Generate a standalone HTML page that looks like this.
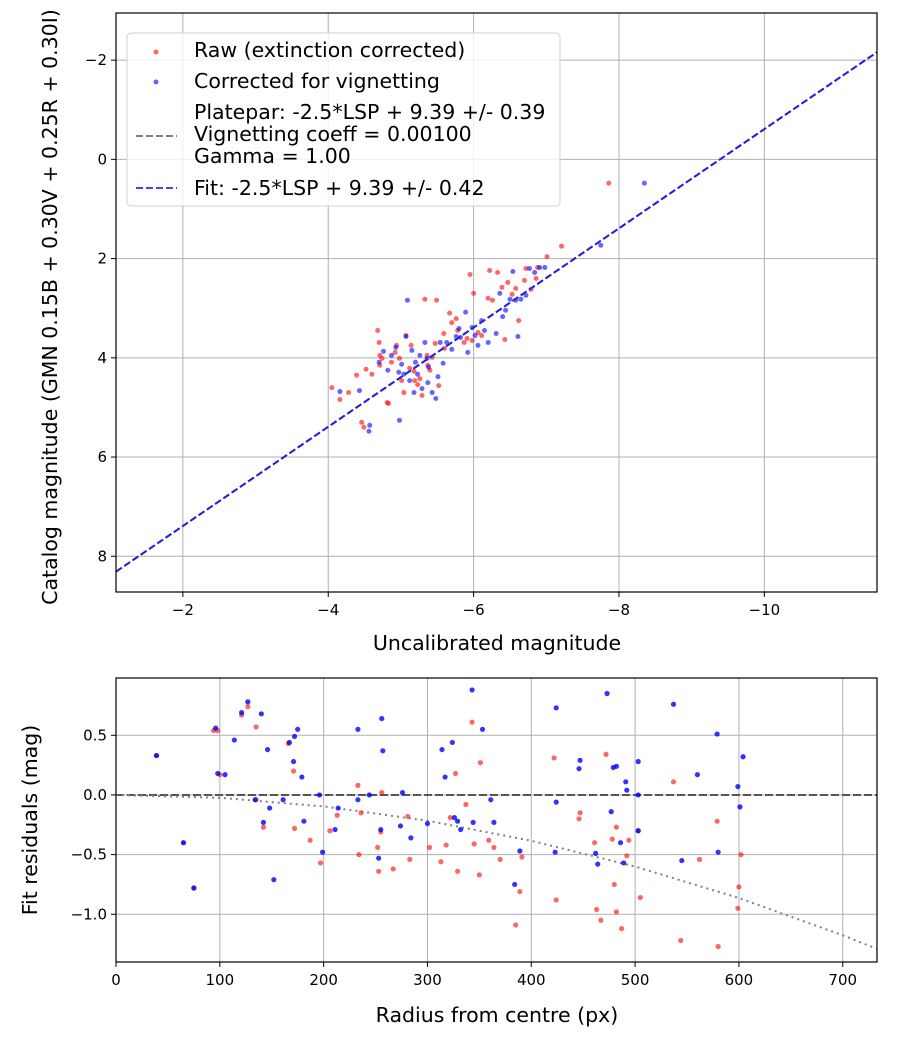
<!DOCTYPE html>
<html><head><meta charset="utf-8"><style>
html,body{margin:0;padding:0;background:#fff;}
svg{display:block;font-family:"DejaVu Sans","Liberation Sans",sans-serif;}
</style></head><body>
<svg id="c" width="900" height="1050" xmlns="http://www.w3.org/2000/svg"></svg>
<script>
// ---- Top panel data ----
const topRawX=[-4.28,-4.46,-4.49,-4.52,-4.60,-4.68,-4.70,-4.71,-4.71,-4.74,-4.81,-4.83,-4.87,-4.92,-4.94,-4.98,-5.01,-5.04,-5.07,-5.12,-5.14,-5.18,-5.19,-5.23,-5.26,-5.29,-5.33,-5.36,-5.37,-5.40,-5.43,-5.47,-5.49,-5.52,-5.59,-5.60,-5.67,-5.70,-5.76,-5.78,-5.87,-5.91,-5.95,-5.98,-6.00,-6.06,-6.11,-6.20,-6.22,-6.26,-6.33,-6.39,-6.43,-6.47,-6.53,-6.58,-6.62,-6.70,-6.72,-6.79,-6.86,-6.88,-7.01,-7.21,-7.86,-4.05,-4.16,-4.39];
const topRawY=[4.70,5.30,5.40,4.23,4.33,3.45,3.69,3.95,4.15,4.01,4.90,4.92,4.09,3.89,3.75,4.01,4.46,4.70,3.55,4.21,3.75,4.27,4.46,4.54,4.42,4.76,2.82,3.95,4.15,4.25,3.99,3.71,2.84,4.56,3.51,3.81,3.10,3.29,3.21,3.45,3.69,3.61,2.32,3.65,2.70,3.49,3.55,2.80,2.24,2.84,2.28,2.58,3.63,2.48,2.72,2.60,3.25,2.44,2.20,2.62,2.40,2.18,1.96,1.75,0.48,4.60,4.84,4.35];
const topCorX=[-4.43,-4.57,-4.56,-4.70,-4.76,-4.82,-4.87,-4.93,-4.97,-4.98,-5.01,-5.04,-5.07,-5.12,-5.15,-5.18,-5.20,-5.23,-5.26,-5.29,-5.33,-5.36,-5.38,-5.43,-5.48,-5.51,-5.54,-5.58,-5.63,-5.70,-5.76,-5.80,-5.82,-5.89,-5.92,-5.98,-6.02,-6.06,-6.11,-6.15,-6.20,-6.31,-6.36,-6.40,-6.44,-6.50,-6.54,-6.58,-6.61,-6.65,-6.72,-6.77,-6.84,-6.91,-6.98,-7.75,-8.35,-5.09,-5.37,-4.16];
const topCorY=[4.66,5.36,5.48,4.09,3.87,4.25,3.95,3.79,4.29,5.26,4.13,4.33,3.57,4.46,3.85,4.70,4.09,4.33,3.95,4.62,3.69,4.01,4.19,4.70,4.82,4.38,3.69,4.11,3.69,3.83,3.57,3.41,3.59,3.08,3.89,3.39,3.55,3.75,3.25,3.45,3.69,3.51,2.70,3.17,3.04,2.82,2.26,2.84,3.57,2.82,2.74,2.20,2.28,2.18,2.18,1.73,0.48,2.84,4.50,4.68];
const fitSlope=1.0, fitIntercept=9.39;
const topXTicks=[-2,-4,-6,-8,-10];
const topYTicks=[-2,0,2,4,6,8];
// ---- Bottom panel data ----
const resRawR=[39,65,75,94,98,100,121,127,135,142,135,166,171,172,187,197,206,213,233,234,236,255,252,253,256,267,281,283,302,313,318,322,329,327,337,343,351,345,350,359,364,370,385,389,391,422,424,446,447,461,463,467,472,478,480,482,482,487,494,492,505,503,537,544,562,579,580,599,600,602];
const resRawY=[0.33,-0.40,-0.78,0.54,0.54,0.17,0.67,0.74,0.57,-0.27,-0.04,0.43,0.20,-0.28,-0.38,-0.57,-0.30,-0.17,0.08,-0.50,-0.15,-0.31,-0.44,-0.64,0.02,-0.62,-0.18,-0.54,-0.44,-0.56,-0.42,-0.19,-0.64,0.18,-0.08,0.61,0.27,-0.41,-0.67,-0.38,-0.44,-0.54,-1.09,-0.81,-0.52,0.31,-0.88,-0.20,-0.15,-0.40,-0.96,-1.05,0.34,-0.37,-0.75,-0.98,-0.27,-1.12,-0.38,-0.51,-0.86,-0.30,0.11,-1.22,-0.54,-0.22,-1.27,-0.95,-0.77,-0.50];
const resCorR=[39,65,75,96,98,105,114,121,127,134,140,142,146,148,152,161,167,171,172,175,179,181,196,199,211,214,233,233,244,253,255,256,257,274,276,284,300,314,317,324,326,329,332,343,344,353,361,364,384,389,424,424,423,446,447,462,464,473,477,479,482,486,489,491,492,503,503,503,537,545,560,579,580,599,601,604];
const resCorY=[0.33,-0.40,-0.78,0.56,0.18,0.17,0.46,0.69,0.78,-0.04,0.68,-0.23,0.38,-0.11,-0.71,-0.04,0.44,0.28,0.49,0.55,0.15,-0.22,0.0,-0.48,-0.29,-0.11,0.55,-0.04,0.0,-0.53,-0.29,0.64,0.37,-0.26,0.02,-0.36,-0.24,0.38,0.15,0.44,-0.19,-0.22,-0.29,0.88,-0.23,0.55,-0.04,-0.23,-0.75,-0.47,0.73,-0.06,-0.48,0.22,0.29,-0.49,-0.58,0.85,-0.14,0.23,0.24,-0.40,-0.57,0.11,0.04,0.28,0.0,-0.30,0.76,-0.55,0.17,0.51,-0.48,0.07,-0.10,0.32];
const vigCurveR=[0,100,200,300,400,500,600,700,733];
const vigCurveY=[0,-0.024,-0.096,-0.216,-0.384,-0.60,-0.864,-1.176,-1.29];
const botXTicks=[0,100,200,300,400,500,600,700];
const botYTicks=[0.5,0,-0.5,-1.0];
const botYLabels=["0.5","0.0","\u22120.5","\u22121.0"];

const NS="http://www.w3.org/2000/svg";
const svg=document.getElementById('c');
function mk(tag,attrs,parent){const e=document.createElementNS(NS,tag);for(const k in attrs)e.setAttribute(k,attrs[k]);(parent||svg).appendChild(e);return e;}
function minus(v){return String(v).replace('-','\u2212');}
const TF=20.5;

const T={l:116,r:877,t:13,b:592,x0:-1.08,x1:-11.55,y0:-2.95,y1:8.72};
const tx=v=>T.l+(v-T.x0)/(T.x1-T.x0)*(T.r-T.l);
const ty=v=>T.t+(v-T.y0)/(T.y1-T.y0)*(T.b-T.t);
const B={l:116,r:877,t:678,b:962,x0:0,x1:733,y0:0.98,y1:-1.40};
const bx=v=>B.l+(v-B.x0)/(B.x1-B.x0)*(B.r-B.l);
const by=v=>B.t+(v-B.y0)/(B.y1-B.y0)*(B.b-B.t);

// ---------- top ----------
const gTop=mk('g',{});


mk('rect',{x:T.l,y:T.t,width:T.r-T.l,height:T.b-T.t,fill:'#fff'},gTop);
topXTicks.forEach(v=>{const x=tx(v);
 const gl=mk('line',{x1:x,x2:x,y1:T.t,y2:T.b,stroke:'#b0b0b0','stroke-width':1},gTop);
 mk('line',{x1:x,x2:x,y1:T.b,y2:T.b+5,stroke:'#000'},gTop);
 const t=mk('text',{x:x,y:T.b+23,'text-anchor':'middle','font-size':15},gTop);t.textContent=minus(v);
 });
topYTicks.forEach(v=>{const y=ty(v);
 const gl=mk('line',{x1:T.l,x2:T.r,y1:y,y2:y,stroke:'#b0b0b0','stroke-width':1},gTop);
 mk('line',{x1:T.l-5,x2:T.l,y1:y,y2:y,stroke:'#000'},gTop);
 const t=mk('text',{x:T.l-9,y:y+5,'text-anchor':'end','font-size':15},gTop);t.textContent=minus(v);
 });
const cp=mk('clipPath',{id:'ct'});mk('rect',{x:T.l,y:T.t,width:T.r-T.l,height:T.b-T.t},cp);
const gTopPts=mk('g',{'clip-path':'url(#ct)'},gTop);
topRawX.forEach((v,i)=>{const c=mk('circle',{cx:tx(v),cy:ty(topRawY[i]),r:2.5,fill:'#ff0000','fill-opacity':0.6},gTopPts);
 });
topCorX.forEach((v,i)=>{const c=mk('circle',{cx:tx(v),cy:ty(topCorY[i]),r:2.5,fill:'#0000ff','fill-opacity':0.6},gTopPts);
 });
const pl=mk('line',{x1:tx(T.x0),y1:ty(fitSlope*T.x0+fitIntercept),x2:tx(T.x1),y2:ty(fitSlope*T.x1+fitIntercept),stroke:'#808080','stroke-width':2,'stroke-dasharray':'7,3'},gTopPts);

const fl=mk('line',{x1:tx(T.x0),y1:ty(fitSlope*T.x0+fitIntercept),x2:tx(T.x1),y2:ty(fitSlope*T.x1+fitIntercept),stroke:'#2222dd','stroke-width':2,'stroke-dasharray':'7,3'},gTopPts);

mk('rect',{x:T.l,y:T.t,width:T.r-T.l,height:T.b-T.t,fill:'none',stroke:'#000','stroke-width':1.2},gTop);
// legend
const lg=mk('g',{},gTop);
mk('rect',{x:127,y:33,width:433,height:173,rx:4,fill:'#fff','fill-opacity':0.8,stroke:'#d0d0d0'},lg);
mk('circle',{cx:156,cy:52,r:2.5,fill:'#ff0000','fill-opacity':0.6},lg);
mk('circle',{cx:156,cy:82,r:2.5,fill:'#0000ff','fill-opacity':0.6},lg);
mk('line',{x1:136,x2:177,y1:136,y2:136,stroke:'#808080','stroke-width':2,'stroke-dasharray':'7,3'},lg);
mk('line',{x1:136,x2:177,y1:188,y2:188,stroke:'#4444ee','stroke-width':2,'stroke-dasharray':'7,3'},lg);
[["Raw (extinction corrected)",57],["Corrected for vignetting",88],["Platepar: -2.5*LSP + 9.39 +/- 0.39",119],["Vignetting coeff = 0.00100",141],["Gamma = 1.00",163],["Fit: -2.5*LSP + 9.39 +/- 0.42",195]].forEach(a=>{
 const t=mk('text',{x:194,y:a[1],'font-size':TF},lg);t.textContent=a[0];
 });
let t1=mk('text',{x:497,y:650,'text-anchor':'middle','font-size':TF});t1.textContent='Uncalibrated magnitude';

t1=mk('text',{x:0,y:0,'text-anchor':'middle','font-size':TF,transform:'translate(57,307) rotate(-90)'});t1.textContent='Catalog magnitude (GMN 0.15B + 0.30V + 0.25R + 0.30I)';


// ---------- bottom ----------
const gBot=mk('g',{});


botXTicks.forEach(v=>{const x=bx(v);
 const gl=mk('line',{x1:x,x2:x,y1:B.t,y2:B.b,stroke:'#b0b0b0','stroke-width':1},gBot);
 mk('line',{x1:x,x2:x,y1:B.b,y2:B.b+5,stroke:'#000'},gBot);
 const t=mk('text',{x:x,y:B.b+23,'text-anchor':'middle','font-size':15},gBot);t.textContent=v;
 });
botYTicks.forEach((v,i)=>{const y=by(v);
 const gl=mk('line',{x1:B.l,x2:B.r,y1:y,y2:y,stroke:'#b0b0b0','stroke-width':1},gBot);
 mk('line',{x1:B.l-5,x2:B.l,y1:y,y2:y,stroke:'#000'},gBot);
 const t=mk('text',{x:B.l-9,y:y+5,'text-anchor':'end','font-size':15},gBot);t.textContent=botYLabels[i];
 });
const cp2=mk('clipPath',{id:'cb'});mk('rect',{x:B.l,y:B.t,width:B.r-B.l,height:B.b-B.t},cp2);
const gBotPts=mk('g',{'clip-path':'url(#cb)'},gBot);
const zl=mk('line',{x1:B.l,x2:B.r,y1:by(0),y2:by(0),stroke:'#555','stroke-width':2,'stroke-dasharray':'8,3'},gBotPts);

const vc=mk('polyline',{points:vigCurveR.map((r,i)=>bx(r)+','+by(vigCurveY[i])).join(' '),fill:'none',stroke:'#808080','stroke-width':2,'stroke-dasharray':'2,4'},gBotPts);

resRawR.forEach((v,i)=>{const c=mk('circle',{cx:bx(v),cy:by(resRawY[i]),r:2.6,fill:'#ff0000','fill-opacity':0.6},gBotPts);
 });
resCorR.forEach((v,i)=>{const c=mk('circle',{cx:bx(v),cy:by(resCorY[i]),r:2.6,fill:'#0000ff','fill-opacity':0.8},gBotPts);
 });
mk('rect',{x:B.l,y:B.t,width:B.r-B.l,height:B.b-B.t,fill:'none',stroke:'#000','stroke-width':1.2},gBot);
t1=mk('text',{x:497,y:1022,'text-anchor':'middle','font-size':TF});t1.textContent='Radius from centre (px)';

t1=mk('text',{x:0,y:0,'text-anchor':'middle','font-size':TF,transform:'translate(37,820) rotate(-90)'});t1.textContent='Fit residuals (mag)';

</script>
</body></html>
